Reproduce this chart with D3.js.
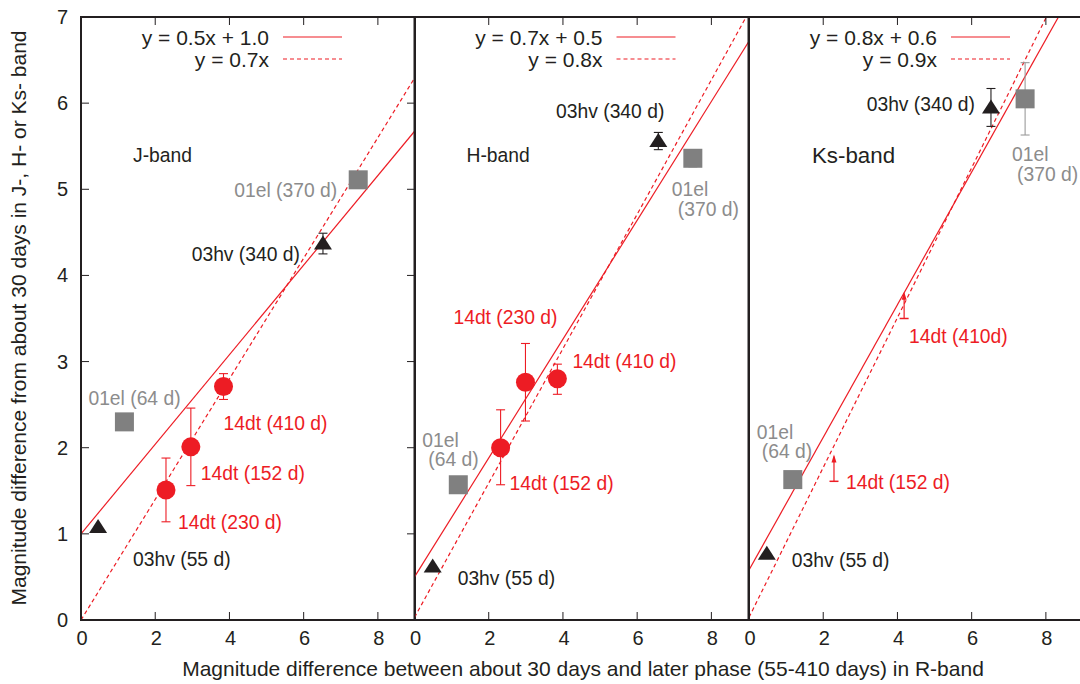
<!DOCTYPE html>
<html>
<head>
<meta charset="utf-8">
<script src="https://cdn.jsdelivr.net/npm/d3@7"></script>
<style>
  body { margin: 0; background: #fff; }
  svg { display: block; font-family: "Liberation Sans", Arial, sans-serif; }
</style>
</head>
<body>
<div id="chart"></div>
<script>
// ---- data ----
const bands = ["J-band", "H-band", "Ks-band"];
const legendSolid = ["y = 0.5x + 1.0", "y = 0.7x + 0.5", "y = 0.8x + 0.6"];
const legendDashed = ["y = 0.7x", "y = 0.8x", "y = 0.9x"];
// fitted lines as drawn: [slope, intercept]
const fitSolid = [[0.52, 1.0], [0.69, 0.5], [0.77, 0.58]];
const fitDashed = [[0.70, 0.0], [0.78, 0.03], [0.87, 0.03]];

const xTicks = [0, 2, 4, 6, 8];
const yTicks = [0, 1, 2, 3, 4, 5, 6, 7];

// SN 2003hv (triangles)
const hvLabels = [["03hv (55 d)", "03hv (340 d)"], ["03hv (55 d)", "03hv (340 d)"], ["03hv (55 d)", "03hv (340 d)"]];
const hvX = [[0.46, 6.52], [0.49, 6.57], [0.48, 6.52]];
const hvY = [[1.08, 4.37], [0.62, 5.56], [0.77, 5.95]];
const hvErr = [[0, 0.12], [0, 0.10], [0, 0.22]];

// SN 2001el (squares)
const elLabels = [[["01el (64 d)"], ["01el (370 d)"]], [["01el", "(64 d)"], ["01el", "(370 d)"]], [["01el", "(64 d)"], ["01el", "(370 d)"]]];
const elX = [[1.17, 7.47], [1.18, 7.50], [1.18, 7.44]];
const elY = [[2.30, 5.11], [1.57, 5.36], [1.63, 6.05]];
const elErr = [[0, 0], [0, 0.10], [0, 0.42]];

// SN 2014dt (circles, or lower limits in Ks)
const dtLabels = [["14dt (152 d)", "14dt (230 d)", "14dt (410 d)"], ["14dt (152 d)", "14dt (230 d)", "14dt (410 d)"], ["14dt (152 d)", "14dt (410d)"]];
const dtX = [[2.96, 2.29, 3.84], [2.32, 2.99, 3.85], [2.29, 4.18]];
const dtY = [[2.01, 1.51, 2.71], [2.00, 2.76, 2.80], [1.61, 3.50]];
const dtErrLo = [[0.45, 0.37, 0.15], [0.43, 0.45, 0.18], [0, 0]];
const dtErrHi = [[0.45, 0.37, 0.15], [0.44, 0.45, 0.17], [0, 0]];

// ---- layout ----
const W = 1080, H = 684;
const panelLeft = [81, 414.5, 749];
const panelW = 334;
const plotTop = 17, plotBottom = 620;
const red = "#ed1c24", gray = "#808080", grayText = "#8c8c8c", ink = "#231f20";
const fs = 19.3;

// label offsets (px, relative to marker) and anchors
const hvPos = [
  [[35, 32, "start"], [-23, 10, "end"]],
  [[25, 11, "start"], [6, -30, "end"]],
  [[25, 6, "start"], [-16, -3, "end"]]
];
const elPos = [
  [[-36, -24, "start"], [-21, 10, "end"]],
  [[-36, -45, "start", 6, 19], [-21, 31, "start", 6, 20]],
  [[-36, -48, "start", 5, 19], [-13, 55, "start", 5, 20]]
];
const dtPos = [
  [[10, 26], [12, 32], [0, 36]],
  [[9, 35], [-72, -65], [15, -18]],
  [[12, 1], [5, 17]]
];

const svg = d3.select("#chart").append("svg")
  .attr("width", W).attr("height", H)
  .attr("viewBox", `0 0 ${W} ${H}`);

const y = d3.scaleLinear().domain([0, 7]).range([plotBottom, plotTop]);

bands.forEach((band, p) => {
  const x = d3.scaleLinear().domain([0, 9]).range([panelLeft[p], panelLeft[p] + panelW]);
  const g = svg.append("g");

  g.append("clipPath").attr("id", "clip" + p)
    .append("rect")
    .attr("x", x(0)).attr("y", plotTop)
    .attr("width", panelW).attr("height", plotBottom - plotTop);

  // fit lines
  const line = d3.line().x(d => x(d[0])).y(d => y(d[1]));
  const fits = [[fitSolid[p], null], [fitDashed[p], "4,3"]];
  fits.forEach(([f, dash]) => {
    g.append("path")
      .datum([[0, f[1]], [9, f[0] * 9 + f[1]]])
      .attr("d", line)
      .attr("clip-path", `url(#clip${p})`)
      .attr("fill", "none")
      .attr("stroke", red)
      .attr("stroke-width", 1.2)
      .attr("stroke-dasharray", dash);
  });

  // legend
  const lx = panelLeft[p] + 188;
  [[legendSolid[p], null, 37], [legendDashed[p], "4,3", 59]].forEach(([t, dash, cy]) => {
    g.append("text").attr("x", lx).attr("y", cy + 7.5)
      .attr("text-anchor", "end").attr("font-size", 21).attr("fill", ink).text(t);
    g.append("line")
      .attr("x1", lx + 14).attr("x2", lx + 73).attr("y1", cy).attr("y2", cy)
      .attr("stroke", red).attr("stroke-width", 1.2).attr("stroke-dasharray", dash);
  });

  // band label
  g.append("text")
    .attr("x", panelLeft[p] + (p === 2 ? 63 : 52))
    .attr("y", 155 + (p === 2 ? 8 : 7))
    .attr("font-size", p === 2 ? 22.3 : 19.3)
    .attr("fill", ink).text(band);

  const errBar = (cx, y0, y1, color) => {
    g.append("line").attr("x1", cx).attr("x2", cx).attr("y1", y(y0)).attr("y2", y(y1))
      .attr("stroke", color).attr("stroke-width", 1.1);
    [y0, y1].forEach(v => g.append("line")
      .attr("x1", cx - 4.5).attr("x2", cx + 4.5).attr("y1", y(v)).attr("y2", y(v))
      .attr("stroke", color).attr("stroke-width", 1.1));
  };

  const label = (tx, ty, txt, color, anchor) => {
    g.append("text").attr("x", tx).attr("y", ty + 7)
      .attr("text-anchor", anchor || "start")
      .attr("font-size", fs).attr("fill", color).text(txt);
  };

  // 2001el squares
  elX[p].forEach((vx, i) => {
    const cx = x(vx), cy = y(elY[p][i]);
    if (elErr[p][i] > 0) errBar(cx, elY[p][i] - elErr[p][i], elY[p][i] + elErr[p][i], "#9a9a9a");
    g.append("rect").attr("x", cx - 9.5).attr("y", cy - 9.5)
      .attr("width", 19).attr("height", 19).attr("fill", gray);
    const pos = elPos[p][i];
    elLabels[p][i].forEach((t, k) => {
      const ox = k === 0 ? 0 : pos[3], oy = k === 0 ? 0 : pos[4];
      label(cx + pos[0] + ox, cy + pos[1] + oy, t, grayText, pos[2]);
    });
  });

  // 2003hv triangles
  hvX[p].forEach((vx, i) => {
    const cx = x(vx), cy = y(hvY[p][i]);
    if (hvErr[p][i] > 0) errBar(cx, hvY[p][i] - hvErr[p][i], hvY[p][i] + hvErr[p][i], ink);
    g.append("path")
      .attr("d", `M${cx},${cy - 8}L${cx + 9},${cy + 6}L${cx - 9},${cy + 6}Z`)
      .attr("fill", ink);
    const pos = hvPos[p][i];
    label(cx + pos[0], cy + pos[1], hvLabels[p][i], ink, pos[2]);
  });

  // 2014dt
  dtX[p].forEach((vx, i) => {
    const cx = x(vx), cy = y(dtY[p][i]);
    if (p === 2) {
      // lower limit: bar at base with arrow pointing up
      const tip = y(dtY[p][i] + 0.31);
      g.append("line").attr("x1", cx).attr("x2", cx).attr("y1", cy).attr("y2", tip + 2)
        .attr("stroke", red).attr("stroke-width", 1.2);
      g.append("line").attr("x1", cx - 4.5).attr("x2", cx + 4.5).attr("y1", cy).attr("y2", cy)
        .attr("stroke", red).attr("stroke-width", 1.5);
      g.append("path").attr("d", `M${cx},${tip}L${cx + 2.5},${tip + 8}L${cx - 2.5},${tip + 8}Z`)
        .attr("fill", red);
    } else {
      errBar(cx, dtY[p][i] - dtErrLo[p][i], dtY[p][i] + dtErrHi[p][i], red);
      g.append("circle").attr("cx", cx).attr("cy", cy).attr("r", 9.5).attr("fill", red);
    }
    const pos = dtPos[p][i];
    label(cx + pos[0], cy + pos[1], dtLabels[p][i], red, "start");
  });

  // frame and ticks
  const x0 = x(0), x1 = x(9);
  xTicks.filter(t => t > 0).forEach(t => {
    g.append("line").attr("x1", x(t)).attr("x2", x(t)).attr("y1", plotBottom).attr("y2", plotBottom - 8)
      .attr("stroke", ink).attr("stroke-width", 1);
    g.append("line").attr("x1", x(t)).attr("x2", x(t)).attr("y1", plotTop).attr("y2", plotTop + 8)
      .attr("stroke", ink).attr("stroke-width", 1);
  });
  xTicks.forEach(t => {
    g.append("text").attr("x", x(t) + 1).attr("y", 645)
      .attr("text-anchor", "middle").attr("font-size", 20).attr("fill", ink).text(t);
  });
  if (p === 0) {
    yTicks.filter(t => t > 0 && t < 7).forEach(t => {
      g.append("line").attr("x1", x0).attr("x2", x0 + 8).attr("y1", y(t)).attr("y2", y(t))
        .attr("stroke", ink).attr("stroke-width", 1);
      g.append("line").attr("x1", x1).attr("x2", x1 - 8).attr("y1", y(t)).attr("y2", y(t))
        .attr("stroke", ink).attr("stroke-width", 1);
    });
    yTicks.forEach(t => {
      g.append("text").attr("x", 68).attr("y", y(t) + 7)
        .attr("text-anchor", "end").attr("font-size", 20).attr("fill", ink).text(t);
    });
  }
  g.append("rect").attr("x", x0).attr("y", plotTop)
    .attr("width", x1 - x0).attr("height", plotBottom - plotTop)
    .attr("fill", "none").attr("stroke", ink).attr("stroke-width", 2);
});

// axis titles
svg.append("text")
  .attr("x", 583).attr("y", 675.5)
  .attr("text-anchor", "middle").attr("font-size", 21).attr("fill", ink)
  .text("Magnitude difference between about 30 days and later phase (55-410 days) in R-band");

svg.append("text")
  .attr("transform", "translate(26,318) rotate(-90)")
  .attr("text-anchor", "middle").attr("font-size", 21).attr("fill", ink)
  .text("Magnitude difference from about 30 days in J-, H- or Ks- band");
</script>
</body>
</html>
